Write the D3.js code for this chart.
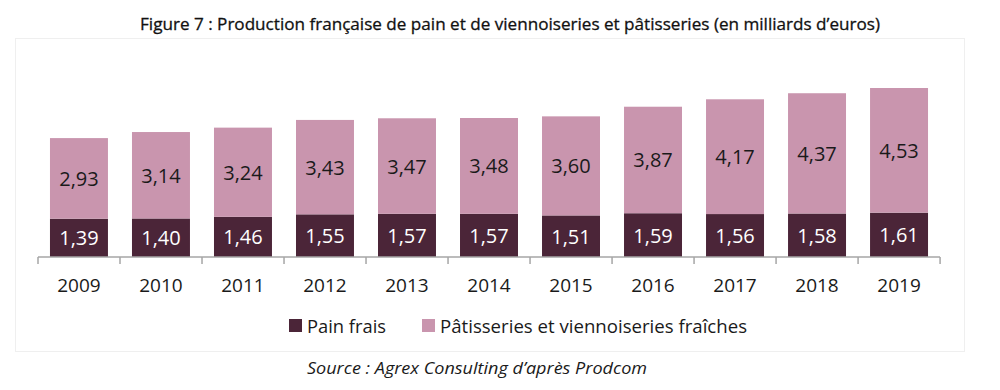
<!DOCTYPE html>
<html>
<head>
<meta charset="utf-8">
<script src="https://cdn.jsdelivr.net/npm/d3@7"></script>
<style>
  body { margin: 0; background: #fff; }
  svg { display: block; font-family: "Open Sans", sans-serif; }
</style>
</head>
<body>
<svg id="chart" width="1000" height="390"></svg>
<script>
const years = ["2009", "2010", "2011", "2012", "2013", "2014", "2015", "2016", "2017", "2018", "2019"];
const painFrais = [1.39, 1.40, 1.46, 1.55, 1.57, 1.57, 1.51, 1.59, 1.56, 1.58, 1.61];
const patisseries = [2.93, 3.14, 3.24, 3.43, 3.47, 3.48, 3.60, 3.87, 4.17, 4.37, 4.53];
const seriesNames = ["Pain frais", "Pâtisseries et viennoiseries fraîches"];
const colors = ["#4b2538", "#c995ae"];

const svg = d3.select("#chart");

// faint chart frame
svg.append("rect")
    .attr("x", 15.5).attr("y", 38.5)
    .attr("width", 949).attr("height", 313)
    .attr("fill", "none")
    .attr("stroke", "#efefef");

// Title
svg.append("text")
    .attr("x", 510).attr("y", 30)
    .attr("text-anchor", "middle")
    .attr("font-size", 17)
    .attr("fill", "#111")
    .attr("stroke", "#111")
    .attr("stroke-width", 0.3)
    .attr("textLength", 740)
    .attr("lengthAdjust", "spacingAndGlyphs")
    .text("Figure 7 : Production française de pain et de viennoiseries et pâtisseries (en milliards d’euros)");

const baseY = 257;
const x = d3.scaleBand().domain(years).range([38, 940]).paddingInner(0.293).paddingOuter(0.146);
const y = d3.scaleLinear().domain([0, 6.14]).range([baseY, 88]);

const data = years.map((yr, i) => ({ year: yr, pain: painFrais[i], pat: patisseries[i] }));
const stack = d3.stack().keys(["pain", "pat"])(data);

const layers = svg.append("g").selectAll("g")
    .data(stack)
    .join("g")
    .attr("fill", (d, i) => colors[i]);

layers.selectAll("rect")
    .data(d => d)
    .join("rect")
    .attr("x", d => x(d.data.year))
    .attr("width", x.bandwidth())
    .attr("y", d => y(d[1]))
    .attr("height", d => y(d[0]) - y(d[1]));

// value labels
layers.each(function (layer, li) {
    d3.select(this).selectAll("text")
        .data(layer)
        .join("text")
        .attr("x", d => x(d.data.year) + x.bandwidth() / 2)
        .attr("y", d => (y(d[0]) + y(d[1])) / 2 + 7.5)
        .attr("text-anchor", "middle")
        .attr("font-size", 20)
        .attr("fill", li === 0 ? "#ffffff" : "#1a1a1a")
        .text(d => d3.format(".2f")(d[1] - d[0]).replace(".", ","));
});

// axis
const axis = svg.append("g").attr("transform", `translate(0,${baseY})`);
axis.append("line")
    .attr("x1", 38).attr("x2", 940)
    .attr("stroke", "#a6a6a6").attr("stroke-width", 1.5);
const step = x.step();
const tickXs = d3.range(years.length + 1).map(i => 38 + i * step);
axis.selectAll(".tick")
    .data(tickXs)
    .join("line")
    .attr("x1", d => d).attr("x2", d => d)
    .attr("y1", 0).attr("y2", 7)
    .attr("stroke", "#a6a6a6").attr("stroke-width", 1.5);
axis.selectAll(".yr")
    .data(years)
    .join("text")
    .attr("x", d => x(d) + x.bandwidth() / 2)
    .attr("y", 35)
    .attr("text-anchor", "middle")
    .attr("font-size", 19)
    .attr("fill", "#1a1a1a")
    .text(d => d);

// legend
const legendX = [289, 422];
const legendW = [79, 307];
const legend = svg.append("g");
seriesNames.forEach((name, i) => {
    legend.append("rect")
        .attr("x", legendX[i]).attr("y", 319)
        .attr("width", 13).attr("height", 13)
        .attr("fill", colors[i]);
    legend.append("text")
        .attr("x", legendX[i] + 18).attr("y", 333)
        .attr("font-size", 18.5)
        .attr("fill", "#1a1a1a")
        .attr("textLength", legendW[i])
        .attr("lengthAdjust", "spacingAndGlyphs")
        .text(name);
});

// source
svg.append("text")
    .attr("x", 307).attr("y", 374)
    .attr("font-size", 16.5)
    .attr("font-style", "italic")
    .attr("fill", "#1a1a1a")
    .attr("textLength", 340)
    .attr("lengthAdjust", "spacingAndGlyphs")
    .text("Source : Agrex Consulting d’après Prodcom");
</script>
</body>
</html>
